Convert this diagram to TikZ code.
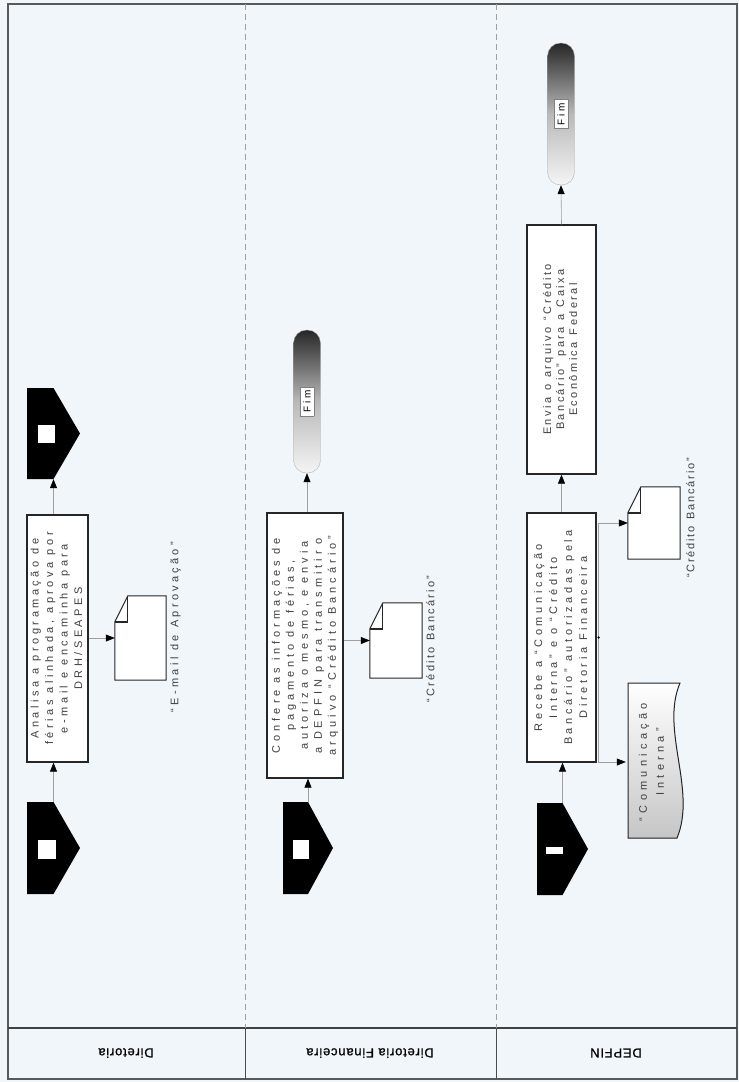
\documentclass[tikz,border=0pt]{standalone}
\usepackage{fontspec}
\setmainfont{Liberation Sans}
\usetikzlibrary{arrows.meta}
\definecolor{paper}{RGB}{241,246,251}
% rotated text block: letter spacing, line distance, lines
\newcommand\vtext[3]{\rotatebox{90}{\fontsize{11}{#2}\selectfont\addfontfeature{LetterSpace=#1}%
  \fontdimen2\font=7pt\spaceskip=7pt plus 1pt\color{black!75}\begin{tabular}{@{}c@{}}#3\end{tabular}}}
% page with folded corner drawn round an empty node
\newcommand\docpage[1]{%
  \filldraw[fill=white, draw=black!85, line width=1pt] ([xshift=13pt]#1.north west) -- (#1.north east) -- (#1.south east) -- (#1.south west) -- ([yshift=-26pt]#1.north west) -- cycle;
  \draw[black!85, line width=1.6pt] ([yshift=-26pt]#1.north west) -- ([xshift=13pt,yshift=-26pt]#1.north west);
  \draw[black!85, line width=1pt] ([xshift=13pt,yshift=-26pt]#1.north west) -- ([xshift=13pt]#1.north west);}
\tikzset{
  flow/.style={draw=gray!75, line width=0.6pt, -{Triangle[length=9pt,width=7pt,color=black]}},
  actbox/.style={draw=black!85, line width=1.3pt, fill=white, inner sep=0pt},
  endcap/.style={draw=gray!60, rounded corners=13pt, minimum width=27pt, inner sep=0pt,
    top color=black!85, bottom color=gray!8, middle color=gray!55},
  docnode/.style={inner sep=0pt},
  offpage/.style 2 args={inner sep=0pt, minimum width=53pt, minimum height=92pt,
    path picture={
      \fill[black] (path picture bounding box.north west) -- (path picture bounding box.north)
        -- (path picture bounding box.east) -- (path picture bounding box.south)
        -- (path picture bounding box.south west) -- cycle;
      \fill[white] ([shift={(#1)}]path picture bounding box.center) rectangle ++(#2);}},
  lanename/.style={rotate=180, font=\fontsize{13}{15}\selectfont\addfontfeatures{LetterSpace=6,FakeBold=1}},
}
\begin{document}
\begin{tikzpicture}[x=1pt, y=-1pt]
\useasboundingbox (0,0) rectangle (739,1082);
\fill[paper] (0,0) rectangle (739,1082);

% lanes
\draw[line width=1.4pt, black!65] (8,4) rectangle (737,1079);
\draw[line width=1.6pt, black!75] (8,1028) -- (737,1028);
\foreach \x in {245,496} {
  \draw[gray!75, dash pattern=on 6pt off 4pt] (\x,4) -- (\x,1028);
  \draw[black!70, line width=0.9pt] (\x,1028) -- (\x,1079);
}
\node[lanename] (lane1) at (126,1053) {Diretoria};
\node[lanename] (lane2) at (370,1053) {Diretoria Financeira};
\node[lanename] (lane3) at (616,1053) {DEPFIN};

% Diretoria
\node[offpage={-15.5pt,8pt}{18pt,-19pt}] (in1) at (53.5,848) {};
\node[offpage={-15.5pt,8.5pt}{17pt,-18pt}, minimum height=91pt] (out1) at (53.5,433.5) {};
\node[actbox, minimum width=61pt, minimum height=247pt] (act1) at (57.5,638.5)
  {\vtext{32}{14.5}{Analisa a programação de\\férias alinhada, aprova por\\e-mail e encaminha para\\DRH/SEAPES}};
\node[docnode, minimum width=51pt, minimum height=84pt] (doc1) at (140.5,638) {};
\docpage{doc1}
\node (cap1) at (176,627) {\vtext{30}{12}{“E-mail de Aprovação”}};

% Diretoria Financeira
\node[offpage={-15pt,8pt}{16pt,-19pt}, minimum width=50pt] (in2) at (308,848) {};
\node[actbox, minimum width=76pt, minimum height=265pt] (act2) at (305,645.5)
  {\vtext{36}{14}{Confere as informações de\\pagamento de férias,\\autoriza o mesmo, e envia\\a DEPFIN para transmitir o\\arquivo “Crédito Bancário”}};
\node[endcap, minimum height=143pt] (end2) at (307,401.5)
  {\rotatebox{90}{\fcolorbox{gray}{white}{\addfontfeature{LetterSpace=30}Fim}}};
\node[docnode, minimum width=52pt, minimum height=75pt] (doc2) at (396,640.5) {};
\docpage{doc2}
\node (cap2) at (432,639) {\vtext{20}{12}{“Crédito Bancário”}};

% DEPFIN
\node[offpage={-16.5pt,2pt}{17pt,-7pt}, minimum width=51pt] (in3) at (562.5,849) {};
\node[actbox, minimum width=69pt, minimum height=249pt] (act3) at (561.5,637.5)
  {\vtext{33}{15}{Recebe a “Comunicação\\Interna” e o “Crédito\\Bancário” autorizadas pela\\Diretoria Financeira}};
\node[actbox, minimum width=69pt, minimum height=249pt] (act4) at (561.5,349.5)
  {\vtext{22}{13}{Envia o arquivo “Crédito\\Bancário” para a Caixa\\Econômica Federal}};
\node[endcap, minimum height=142pt] (end3) at (561,114)
  {\rotatebox{90}{\fcolorbox{gray}{white}{\addfontfeature{LetterSpace=30}Fim}}};
\node[docnode, minimum width=52pt, minimum height=72pt] (doc3) at (654,523) {};
\docpage{doc3}
\node (cap3) at (692,518) {\vtext{16}{12}{“Crédito Bancário”}};
\filldraw[draw=black!85, line width=1pt, top color=white, bottom color=gray!45]
  (628,683) -- (680,683) .. controls (660,730) and (697,790) .. (677,838) -- (628,838) -- cycle;
\node[docnode, minimum width=52pt, minimum height=155pt] (mem3) at (652,762)
  {\vtext{39}{17}{“Comunicação\\Interna”}};

% connectors
\draw[flow] (in1.north) -- (in1.north |- act1.south);
\draw[flow] (out1.south |- act1.north) -- (out1.south);
\draw[flow] (act1.east |- doc1.west) -- (doc1.west);
\draw[flow] (in2.north) -- (in2.north |- act2.south);
\draw[flow] (end2.south |- act2.north) -- (end2.south);
\draw[flow] (act2.east |- doc2.west) -- (doc2.west);
\draw[flow] (in3.north) -- (in3.north |- act3.south);
\draw[flow] (act3.north) -- (act4.south);
\draw[flow] (act4.north) -- (end3.south);
\coordinate (fork) at ([xshift=2pt]act3.east);
\draw[flow] (fork) |- (doc3.west);
\draw[flow] (fork) |- (mem3.west);
\fill[black] (fork) circle (1.3pt);
\end{tikzpicture}
\end{document}
